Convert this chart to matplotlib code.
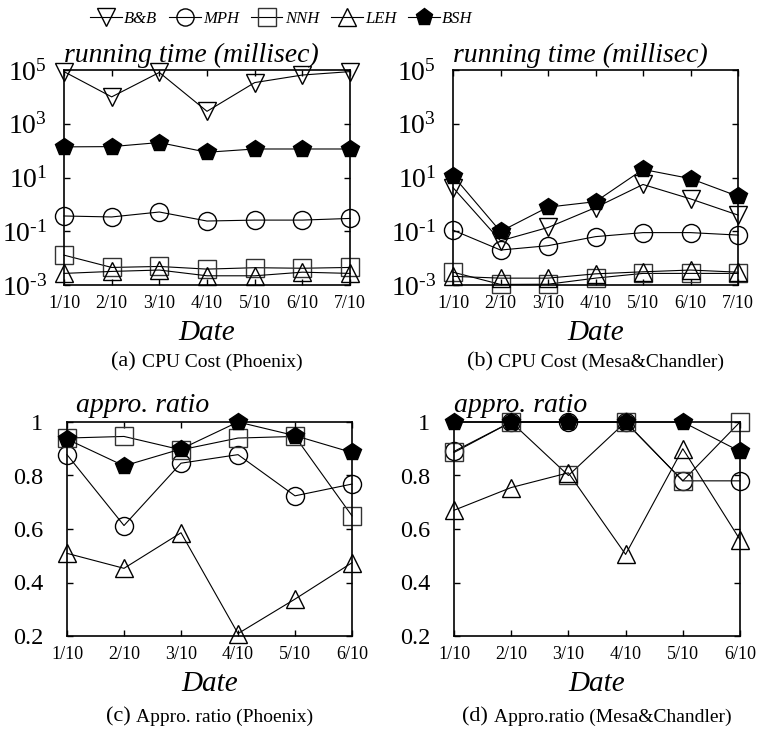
import math
import matplotlib
matplotlib.use("Agg")
import matplotlib.pyplot as plt
from matplotlib.ticker import FixedLocator, FuncFormatter

plt.rcParams['font.family'] = ['Liberation Serif', 'DejaVu Serif']
plt.rcParams['mathtext.fontset'] = 'custom'
plt.rcParams['mathtext.rm'] = 'Liberation Serif'
plt.rcParams['mathtext.it'] = 'Liberation Serif:italic'

# data
dates7 = ["1/10", "2/10", "3/10", "4/10", "5/10", "6/10", "7/10"]
dates6 = ["1/10", "2/10", "3/10", "4/10", "5/10", "6/10"]

# (a) CPU cost, Phoenix (ms)
a_bb = [87000, 10000, 81000, 2900, 34000, 65000, 87000]
a_mph = [0.37, 0.34, 0.52, 0.24, 0.26, 0.26, 0.30]
a_nnh = [0.0129, 0.0045, 0.0049, 0.0039, 0.0044, 0.0042, 0.0045]
a_leh = [0.0027, 0.0032, 0.0036, 0.0022, 0.0022, 0.0030, 0.0027]
a_bsh = [138, 141, 200, 87, 115, 115, 115]

# (b) CPU cost, Mesa&Chandler (ms)
b_bb = [4.2, 0.044, 0.138, 0.76, 5.5, 1.6, 0.40]
b_mph = [0.11, 0.020, 0.029, 0.063, 0.089, 0.089, 0.072]
b_nnh = [0.0030, 0.00105, 0.00107, 0.0018, 0.0027, 0.0027, 0.0027]
b_leh = [0.0021, 0.0018, 0.0018, 0.0026, 0.0031, 0.0036, 0.0030]
b_bsh = [11.7, 0.098, 0.79, 1.26, 20, 9.1, 2.0]

# (c) approximation ratio, Phoenix
c_mph = [0.878, 0.613, 0.846, 0.878, 0.724, 0.768]
c_nnh = [0.94, 0.946, 0.896, 0.94, 0.946, 0.649]
c_leh = [0.509, 0.453, 0.586, 0.209, 0.338, 0.474]
c_bsh = [0.936, 0.836, 0.899, 1.0, 0.949, 0.886]

# (d) approximation ratio, Mesa&Chandler
d_mph = [0.89, 1.0, 1.0, 1.0, 0.78, 0.78]
d_nnh = [0.886, 1.0, 0.80, 1.0, 0.78, 1.0]
d_leh = [0.67, 0.755, 0.81, 0.505, 0.90, 0.56]
d_bsh = [1.0, 1.0, 1.0, 1.0, 1.0, 0.89]

styles = {
    "B&B": dict(marker="v", mfc="none"),
    "MPH": dict(marker="o", mfc="none"),
    "NNH": dict(marker="s", mfc="none", mec="#333333"),
    "LEH": dict(marker="^", mfc="none"),
    "BSH": dict(marker="p", mfc="black"),
}


def draw(ax, series, labels):
    x = list(range(1, len(labels) + 1))
    handles = []
    for name, vals in series:
        h, = ax.plot(x, vals, color="black", lw=0.8, ms=13, mew=1.0,
                     clip_on=False, label=name, **{"mec": "black", **styles[name]})
        handles.append(h)
    ax.set_xlim(1, len(labels))
    ax.xaxis.set_major_locator(FixedLocator(x))
    ax.set_xticklabels(labels)
    ax.tick_params(axis="x", labelsize=13, pad=7)
    ax.tick_params(direction="in", length=4, width=1, top=True, right=True)
    ax.minorticks_off()
    for s in ax.spines.values():
        s.set_linewidth(1.2)
    return handles


def log_label(v, pos):
    e = int(round(math.log10(v)))
    if e < 0:
        return r"$\mathdefault{10^{\text{-}%d}}$" % (-e)
    return r"$\mathdefault{10^{%d}}$" % e


fig = plt.figure(figsize=(7.62, 7.35), dpi=100)
W, H = 762.0, 735.0


def add_axes(l, r, t, b):
    return fig.add_axes([l / W, 1 - b / H, (r - l) / W, (b - t) / H])


ax_a = add_axes(64, 350, 70, 285)
ax_b = add_axes(453, 738, 70, 285)
ax_c = add_axes(67, 352, 422, 636)
ax_d = add_axes(454, 740, 422, 636)

handles = draw(ax_a, [("B&B", a_bb), ("MPH", a_mph), ("NNH", a_nnh),
                      ("LEH", a_leh), ("BSH", a_bsh)], dates7)
draw(ax_b, [("B&B", b_bb), ("MPH", b_mph), ("NNH", b_nnh),
            ("LEH", b_leh), ("BSH", b_bsh)], dates7)
draw(ax_c, [("MPH", c_mph), ("NNH", c_nnh), ("LEH", c_leh), ("BSH", c_bsh)], dates6)
draw(ax_d, [("MPH", d_mph), ("NNH", d_nnh), ("LEH", d_leh), ("BSH", d_bsh)], dates6)

for ax in (ax_a, ax_b):
    ax.set_yscale("log")
    ax.set_ylim(1e-3, 1e5)
    ax.yaxis.set_major_locator(FixedLocator([1e-3, 1e-1, 1e1, 1e3, 1e5]))
    ax.yaxis.set_major_formatter(FuncFormatter(log_label))
    ax.minorticks_off()
    ax.tick_params(axis="y", labelsize=20, pad=12)
    ax.text(0, 1.037, "running time (millisec)", transform=ax.transAxes,
            fontsize=20, style="italic", va="baseline", ha="left")

for ax, dx in ((ax_c, 0.03), (ax_d, 0.0)):
    ax.set_ylim(0.2, 1.0)
    ax.yaxis.set_major_locator(FixedLocator([0.2, 0.4, 0.6, 0.8, 1.0]))
    ax.yaxis.set_major_formatter(FuncFormatter(lambda v, p: "1" if v == 1 else f"{v:.1f}"))
    ax.tick_params(axis="y", labelsize=17.5, pad=17)
    ax.text(dx, 1.045, "appro. ratio", transform=ax.transAxes,
            fontsize=20, style="italic", va="baseline", ha="left")

for ax in (ax_a, ax_b, ax_c, ax_d):
    ax.set_xlabel("Date", fontsize=21, style="italic", labelpad=6)

captions = [
    (ax_a, "(a)", "CPU Cost (Phoenix)", 362),
    (ax_b, "(b)", "CPU Cost (Mesa&Chandler)", 362),
    (ax_c, "(c)", "Appro. ratio (Phoenix)", 717),
    (ax_d, "(d)", "Appro.ratio (Mesa&Chandler)", 717),
]
fig.canvas.draw()
r = fig.canvas.get_renderer()
for ax, tag, text, y in captions:
    pos = ax.get_position()
    cx = (pos.x0 + pos.x1) / 2
    # bigger tag followed by smaller caption text
    t1 = fig.text(cx, 1 - y / H, tag + " ", fontsize=16, ha="left", va="center")
    t2 = fig.text(cx, 1 - y / H, text, fontsize=14, ha="left", va="center")
    w1 = t1.get_window_extent(r).width / W
    w2 = t2.get_window_extent(r).width / W
    x0 = cx - (w1 + w2) / 2
    t1.set_x(x0)
    t2.set_x(x0 + w1)

fig.legend(handles=handles, loc="center left", bbox_to_anchor=(90 / W, 1 - 19 / H),
           ncol=5, frameon=False, prop={"size": 12, "style": "italic"},
           handlelength=1.9, handletextpad=0.15, columnspacing=0.7, borderpad=0,
           borderaxespad=0, markerscale=0.95)

fig.savefig("out.png", dpi=100)
